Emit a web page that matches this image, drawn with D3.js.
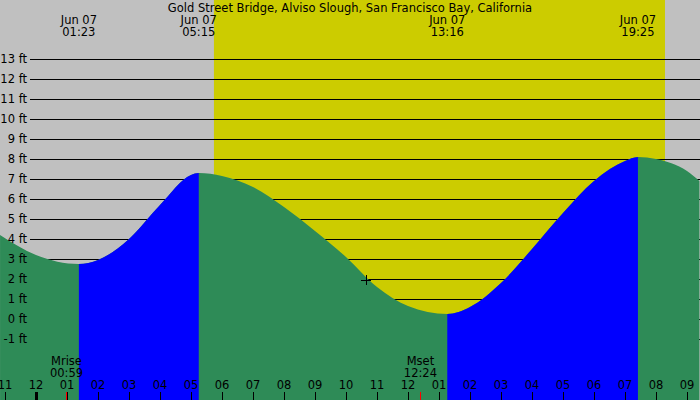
<!DOCTYPE html>
<html><head><meta charset="utf-8">
<script src="https://cdn.jsdelivr.net/npm/d3@7"></script>
<style>body{margin:0;background:#c0c0c0}svg{display:block}text{font-family:"DejaVu Sans",sans-serif;font-size:11.5px}</style>
</head><body><svg id="c" width="700" height="400"></svg>
<script>
const title = "Gold Street Bridge, Alviso Slough, San Francisco Bay, California";
// tide heights (ft) by hour since midnight
const tideHours  = [-1.16, 0, 1.38, 2, 3, 4, 5, 5.25, 6, 7, 8, 9, 10, 11, 12, 13.27, 14, 15, 16, 17, 18, 19, 19.42, 20, 21, 21.4];
const tideFeet   = [4.2, 3.2, 2.75, 2.95, 4.0, 5.7, 7.2, 7.3, 7.15, 6.6, 5.6, 4.4, 3.1, 1.6, 0.65, 0.25, 0.6, 1.8, 3.5, 5.3, 6.9, 7.9, 8.1, 8.0, 7.4, 6.9];
// extremes
const extremeHours = [1.383, 5.25, 13.267, 19.417];
const extremeLabels = ["01:23", "05:15", "13:16", "19:25"];
const extremeFeet = [2.75, 7.3, 0.25, 8.1];
const sunrise = 5.74, sunset = 20.29;
const moonEvents = [{h: 0.983, name: "Mrise", t: "00:59"}, {h: 12.4, name: "Mset", t: "12:24"}];
const hourLabels = ["11","12","01","02","03","04","05","06","07","08","09","10","11","12","01","02","03","04","05","06","07","08","09"];
const hourValues = d3.range(-1, 22);
const feetTicks = d3.range(-1, 14);
const marker = {h: 10.65, ft: 1.95};

const svg = d3.select("#c");
const x = d3.scaleLinear().domain([0, 1]).range([36, 67]);
const y = d3.scaleLinear().domain([0, 13]).range([319, 59]);

svg.append("rect").attr("x", x(sunrise)).attr("y", 0).attr("width", x(sunset) - x(sunrise)).attr("height", 400).attr("fill", "#cccc00");

const pts = tideHours.map((h, i) => [h, tideFeet[i]]);
const area = d3.area().x(d => x(d[0])).y0(400).y1(d => y(d[1])).curve(d3.curveMonotoneX);

feetTicks.forEach(f => {
  svg.append("line").attr("x1", 30).attr("x2", 700).attr("y1", y(f) + 0.5).attr("y2", y(f) + 0.5)
    .attr("stroke", "#000").attr("shape-rendering", "crispEdges");
});

svg.append("clipPath").attr("id", "clipAll").append("path").attr("d", area(pts));
const g = svg.append("g").attr("clip-path", "url(#clipAll)");
g.append("rect").attr("x", 0).attr("y", 0).attr("width", 700).attr("height", 400).attr("fill", "#2e8b57");
[[extremeHours[0], extremeHours[1]], [extremeHours[2], extremeHours[3]]].forEach(([a, b]) => {
  g.append("rect").attr("x", x(a)).attr("y", 0).attr("width", x(b) - x(a)).attr("height", 400).attr("fill", "#0000ff");
});

feetTicks.forEach(f => {
  svg.append("text").attr("x", 27).attr("y", y(f) + 4).attr("text-anchor", "end").text(f + " ft");
});

svg.append("text").attr("x", 350).attr("y", 12).attr("text-anchor", "middle").text(title);
extremeHours.forEach((h, i) => {
  svg.append("text").attr("x", x(h)).attr("y", 24).attr("text-anchor", "middle").text("Jun 07");
  svg.append("text").attr("x", x(h)).attr("y", 36).attr("text-anchor", "middle").text(extremeLabels[i]);
});

svg.append("path").attr("d", `M${x(marker.h)-5},${y(marker.ft)+0.5}h10M${x(marker.h)+0.5},${y(marker.ft)-5}v10`)
  .attr("stroke", "#000").attr("shape-rendering", "crispEdges");

hourValues.forEach((h, i) => {
  svg.append("text").attr("x", x(h)).attr("y", 389).attr("text-anchor", "middle").text(hourLabels[i]);
  svg.append("line").attr("x1", x(h)).attr("x2", x(h)).attr("y1", 392).attr("y2", 400).attr("stroke", "#000")
    .attr("stroke-width", h === 0 ? 3 : 1).attr("shape-rendering", "crispEdges");
});
moonEvents.forEach(m => {
  svg.append("text").attr("x", x(m.h)).attr("y", 365).attr("text-anchor", "middle").text(m.name);
  svg.append("text").attr("x", x(m.h)).attr("y", 377).attr("text-anchor", "middle").text(m.t);
  svg.append("line").attr("x1", x(m.h)).attr("x2", x(m.h)).attr("y1", 392).attr("y2", 400).attr("stroke", "#ff0000")
    .attr("shape-rendering", "crispEdges");
});
</script></body></html>
